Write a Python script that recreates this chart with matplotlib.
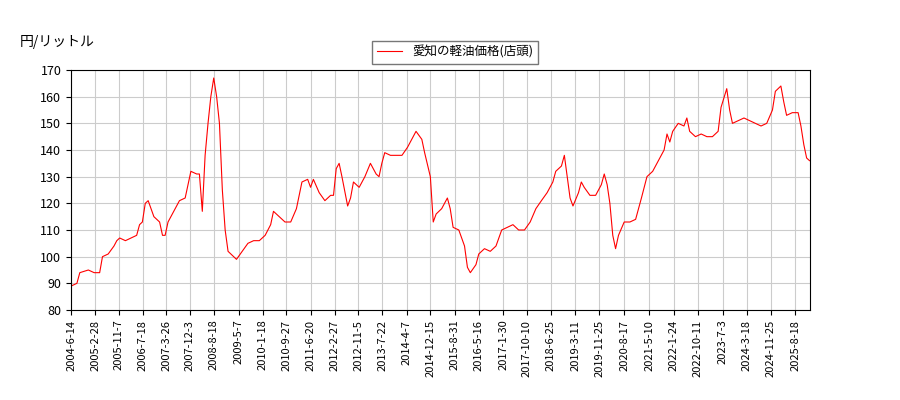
import matplotlib
matplotlib.use("Agg")
import matplotlib.pyplot as plt
import pandas as pd

plt.rcParams['font.family'] = ['Noto Sans CJK JP', 'DejaVu Sans']

months = ["2004-06","2004-08","2004-09","2004-12","2005-02","2005-04","2005-05","2005-07","2005-09","2005-10","2005-11",
"2006-01","2006-03","2006-05","2006-06","2006-07","2006-08","2006-09","2006-10","2006-11","2007-01","2007-02","2007-03",
"2007-04","2007-06","2007-08","2007-10","2007-11","2007-12","2008-02","2008-03","2008-04","2008-05","2008-06","2008-07",
"2008-08","2008-09","2008-10","2008-11","2008-12","2009-01","2009-03","2009-04","2009-06","2009-08","2009-10","2009-12",
"2010-02","2010-04","2010-05","2010-07","2010-09","2010-11","2011-01","2011-03","2011-05","2011-06","2011-07","2011-09",
"2011-11","2012-01","2012-02","2012-03","2012-04","2012-05","2012-07","2012-08","2012-09","2012-11","2013-01","2013-03",
"2013-05","2013-06","2013-07","2013-08","2013-10","2013-12","2014-02","2014-04","2014-06","2014-07","2014-09","2014-10",
"2014-12","2015-01","2015-02","2015-04","2015-06","2015-07","2015-08","2015-10","2015-12","2016-01","2016-02","2016-04",
"2016-05","2016-07","2016-09","2016-11","2017-01","2017-03","2017-05","2017-07","2017-09","2017-11","2018-01","2018-03",
"2018-05","2018-07","2018-08","2018-10","2018-11","2018-12","2019-01","2019-02","2019-04","2019-05","2019-06","2019-08",
"2019-10","2019-12","2020-01","2020-02","2020-03","2020-04","2020-05","2020-06","2020-08","2020-10","2020-12","2021-02",
"2021-04","2021-06","2021-08","2021-10","2021-11","2021-12","2022-01","2022-03","2022-05","2022-06","2022-07","2022-09",
"2022-11","2023-01","2023-03","2023-05","2023-06","2023-08","2023-09","2023-10","2023-12","2024-02","2024-04","2024-06",
"2024-08","2024-10","2024-12","2025-01","2025-03","2025-04","2025-05","2025-07","2025-09","2025-10","2025-11","2025-12","2026-01"]
prices = [89,90,94,95,94,94,100,101,104,106,107,
106,107,108,112,113,120,121,118,115,113,108,108,
113,117,121,122,127,132,131,131,117,138,150,160,
167,160,150,125,110,102,100,99,102,105,106,106,
108,112,117,115,113,113,118,128,129,126,129,124,
121,123,123,133,135,130,119,122,128,126,130,135,
131,130,135,139,138,138,138,141,145,147,144,139,
130,113,116,118,122,118,111,110,104,96,94,97,
101,103,102,104,110,111,112,110,110,113,118,121,
124,128,132,134,138,130,122,119,124,128,126,123,
123,127,131,127,120,108,103,108,113,113,114,122,
130,132,136,140,146,143,147,150,149,152,147,145,
146,145,145,147,156,163,155,150,151,152,151,150,
149,150,155,162,164,158,153,154,154,149,142,137,136]

tick_labels = ["2004-6-14","2005-2-28","2005-11-7","2006-7-18","2007-3-26","2007-12-3","2008-8-18","2009-5-7",
"2010-1-18","2010-9-27","2011-6-20","2012-2-27","2012-11-5","2013-7-22","2014-4-7","2014-12-15","2015-8-31",
"2016-5-16","2017-1-30","2017-10-10","2018-6-25","2019-3-11","2019-11-25","2020-8-17","2021-5-10","2022-1-24",
"2022-10-11","2023-7-3","2024-3-18","2024-11-25","2025-8-18"]

x = pd.to_datetime([m + "-15" for m in months])
x = x.where(x >= pd.Timestamp("2004-06-14"), pd.Timestamp("2004-06-14"))
ticks = pd.to_datetime(tick_labels)

fig = plt.figure(figsize=(9, 4), dpi=100)
ax = fig.add_axes([0.079, 0.225, 0.821, 0.6])
ax.plot(x, prices, color='red', lw=0.8, label='愛知の軽油価格(店頭)')
ax.set_xlim(pd.Timestamp("2004-06-14"), pd.Timestamp("2026-01-20"))
ax.set_ylim(80, 170)
ax.set_yticks(range(80, 171, 10))
ax.set_xticks(ticks)
ax.set_xticklabels(tick_labels, rotation=90, fontsize=8)
ax.tick_params(axis='y', labelsize=9)
ax.grid(True, color='#cccccc', lw=0.8)
fig.text(0.022, 0.885, '円/リットル', fontsize=10)
ax.legend(loc='lower center', bbox_to_anchor=(0.52, 1.0), fontsize=9, frameon=True, fancybox=False, edgecolor='#555555')
fig.savefig('out.png')
